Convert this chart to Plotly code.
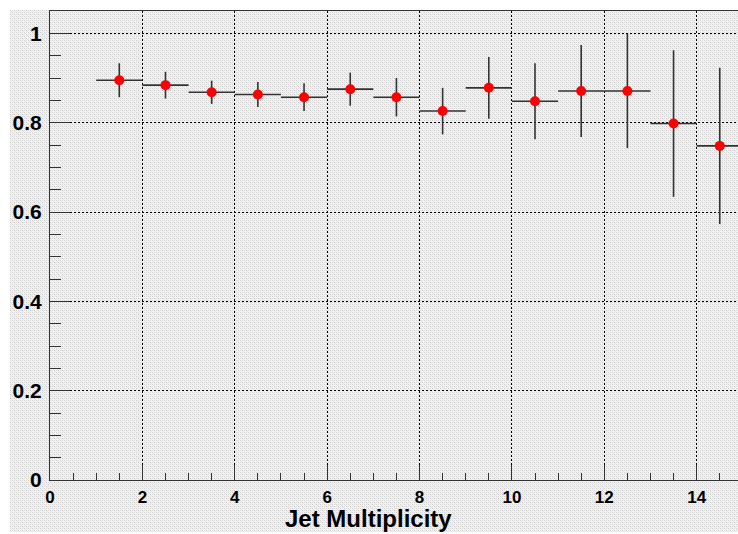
import base64
import plotly.graph_objects as go

# ---- data ----
bin_centers = [1.5, 2.5, 3.5, 4.5, 5.5, 6.5, 7.5, 8.5, 9.5, 10.5, 11.5, 12.5, 13.5, 14.5]
efficiency  = [0.895, 0.884, 0.868, 0.863, 0.857, 0.875, 0.857, 0.826, 0.878, 0.848, 0.871, 0.871, 0.798, 0.748]
eff_error   = [0.038, 0.030, 0.026, 0.028, 0.031, 0.037, 0.043, 0.052, 0.069, 0.085, 0.103, 0.128, 0.164, 0.175]
bin_half_width = [0.5] * len(bin_centers)
x_tickvals = [0, 2, 4, 6, 8, 10, 12, 14]
y_tickvals = [0, 0.2, 0.4, 0.6, 0.8, 1.0]
x_title = "Jet Multiplicity"

W, H = 738, 534
L, R, T, B = 50, 0, 11, 54
PW, PH = W - L - R, H - T - B

# dotted grey background pattern (as SVG)
svg = f'''<svg xmlns="http://www.w3.org/2000/svg" width="728" height="522" shape-rendering="crispEdges">
<defs><pattern id="p" width="4" height="4" patternUnits="userSpaceOnUse">
<rect width="4" height="4" fill="#f3f3f3"/>
<rect x="0" y="0" width="1" height="1" fill="#c4c4c4"/>
<rect x="2" y="2" width="1" height="1" fill="#d0d0d0"/>
<rect x="2" y="0" width="1" height="1" fill="#dedede"/>
<rect x="0" y="2" width="1" height="1" fill="#dedede"/>
<rect x="1" y="1" width="1" height="1" fill="#e6e6e6"/>
<rect x="3" y="3" width="1" height="1" fill="#e6e6e6"/>
</pattern></defs>
<rect width="728" height="522" fill="url(#p)"/></svg>'''
src = "data:image/svg+xml;base64," + base64.b64encode(svg.encode()).decode()

fig = go.Figure()
fig.add_trace(go.Scatter(
    x=bin_centers, y=efficiency, mode="markers",
    marker=dict(color="#ff0000", size=10, line=dict(width=0)),
    error_y=dict(type="data", array=eff_error, color="#333333", thickness=1.6, width=0),
    error_x=dict(type="data", array=bin_half_width, color="#333333", thickness=1.6, width=0),
    showlegend=False, cliponaxis=False,
))

font_tick = dict(family="Liberation Sans, Arial, sans-serif", color="black", weight="bold")

fig.update_layout(
    width=W, height=H,
    margin=dict(l=L, r=R, t=T, b=B, pad=0),
    paper_bgcolor="white",
    plot_bgcolor="rgba(0,0,0,0)",
    images=[dict(source=src, xref="paper", yref="paper",
                 x=(10 - L) / PW, y=1 + (T - 10) / PH,
                 sizex=728 / PW, sizey=522 / PH,
                 sizing="stretch", xanchor="left", yanchor="top", layer="below")],
    xaxis=dict(range=[0, PW / 46.19], tickvals=x_tickvals,
               ticks="inside", ticklen=15, tickwidth=1.2, tickcolor="#333333",
               showline=True, linecolor="#333333", linewidth=1.2, mirror=True,
               showgrid=True, gridcolor="black", gridwidth=1, griddash="2px,2px",
               zeroline=False, tickfont=dict(size=17, **font_tick),
               ticklabelstandoff=1,
               minor=dict(dtick=0.5, ticks="inside", ticklen=7, tickcolor="#333333", showgrid=False)),
    yaxis=dict(range=[0, 1.05], tickvals=y_tickvals,
               ticks="inside", ticklen=20, tickwidth=1.2, tickcolor="#333333",
               showline=True, linecolor="#333333", linewidth=1.2,
               showgrid=True, gridcolor="black", gridwidth=1, griddash="2px,2px",
               zeroline=False, tickfont=dict(size=21, **font_tick),
               ticklabelstandoff=3,
               minor=dict(dtick=0.05, ticks="inside", ticklen=11, tickcolor="#333333", showgrid=False)),
    annotations=[dict(text=x_title, xref="paper", yref="paper",
                      x=(454 - L) / PW, y=-(503 - (T + PH)) / PH,
                      xanchor="right", yanchor="top", showarrow=False,
                      font=dict(size=24, **font_tick))],
)

fig.write_html("out.html")
